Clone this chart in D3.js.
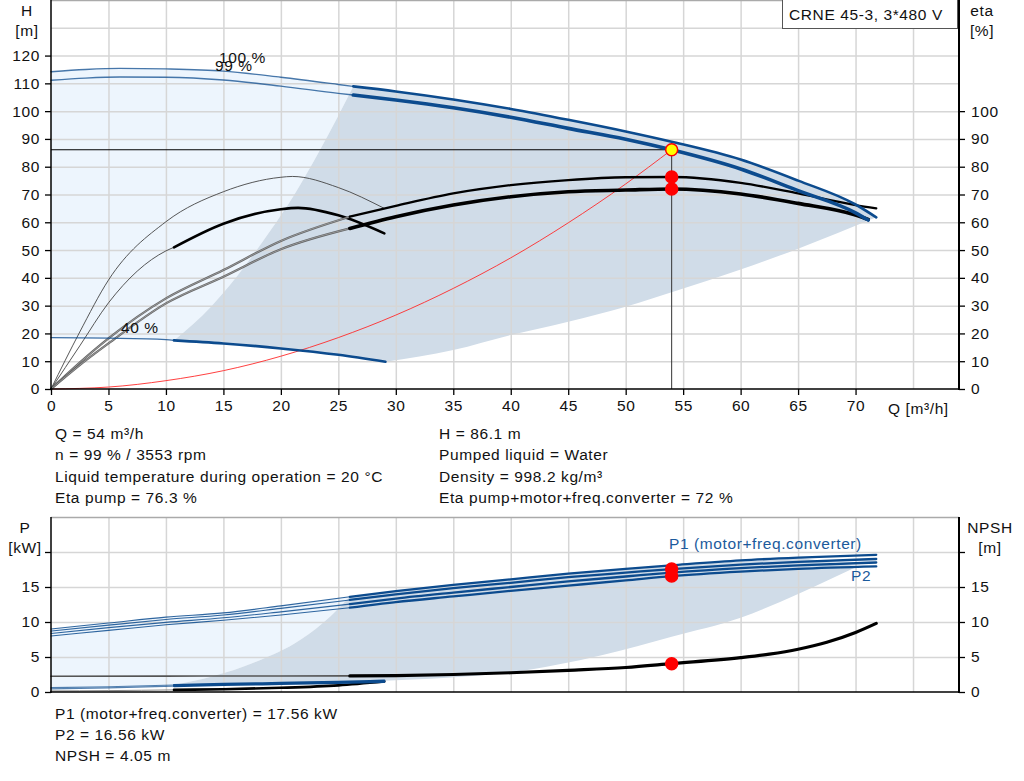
<!DOCTYPE html>
<html>
<head>
<meta charset="utf-8">
<script src="https://cdn.jsdelivr.net/npm/d3@7/dist/d3.min.js"></script>
<style>
  body { margin: 0; background: #fff; }
  svg { font-family: "Liberation Sans", Arial, sans-serif; letter-spacing: 0.6px; }
  svg text { font-size: 15.5px; fill: #111; }
  .axis line { stroke: #000; stroke-width: 1.3; }
  .grid line { stroke: #d6d6d6; stroke-width: 1.5; }
  .grid .domain { display: none; }
</style>
</head>
<body>
<svg width="1024" height="781"></svg>
<script>
// ---- head curves (m) ----
const qH100 = [0, 3, 6, 10, 15, 20, 25, 26.3, 30, 35, 40, 45, 50, 54, 60, 65, 70, 71.8];
const h100 = [114.2, 115.0, 115.4, 115.2, 114.4, 112.2, 109.6, 108.9, 107.1, 104.2, 100.8, 96.9, 92.7, 89.0, 82.6, 75.0, 66.4, 61.8];
const qH99 = [0, 3, 6, 10, 15, 20, 25, 26.3, 30, 35, 40, 45, 50, 54, 60, 65, 70, 71.1];
const h99 = [111.1, 111.9, 112.3, 112.2, 111.2, 109.0, 106.4, 105.8, 104.0, 101.2, 97.8, 93.8, 89.9, 86.1, 79.2, 71.4, 63.4, 60.8];
const qH40 = [0, 5, 10, 10.7, 15, 20, 25, 29.1];
const h40 = [18.5, 18.3, 17.8, 17.5, 16.4, 14.6, 12.3, 9.8];
const qMinFlow = [10.7, 14, 17, 19, 21.1, 23.4, 26.3];
const hMinFlow = [17.5, 30, 45, 56.5, 69.5, 86, 108.9];
const qMaxEdge = [29.1, 35, 40, 45, 50, 54.6, 60, 65, 71.8];
const hMaxEdge = [9.8, 14, 19.4, 24.2, 29.6, 35.6, 43, 50.5, 61.8];
const qSys = [0, 5, 10, 15, 20, 25, 30, 35, 40, 45, 50, 54];
const hSys = [0, 0.7, 3.0, 6.6, 11.8, 18.5, 26.6, 36.2, 47.2, 59.8, 73.8, 86.1];

// ---- efficiency curves (%) ----
const qEtaPump = [0, 2.5, 5, 10, 15, 20, 26, 30, 35, 40, 45, 50, 54, 60, 65, 70, 71.8];
const etaPump = [0, 9.5, 18.2, 32.6, 42.8, 53.3, 62.0, 65.9, 70.4, 73.4, 75.2, 76.2, 76.3, 74.2, 70.4, 66.2, 65.0];
const qEtaTotal = [0, 2.5, 5, 10, 15, 20, 26, 30, 35, 40, 45, 50, 54, 60, 65, 70, 71.1];
const etaTotal = [0, 8.6, 16.4, 30.8, 40.4, 50.3, 57.8, 62.0, 66.2, 69.2, 71.0, 71.6, 72.0, 70.2, 66.8, 62.6, 61.0];
const qEta40a = [0, 2.5, 5, 10, 15, 20, 21, 25, 29];
const eta40a = [0, 20.5, 39.2, 60.2, 71.0, 76.2, 76.5, 72.5, 65.0];
const qEta40b = [0, 2.5, 5, 10, 10.7, 15, 20, 21.5, 25, 29];
const eta40b = [0, 15.5, 31.0, 49.7, 51, 59.5, 64.7, 65.2, 62.5, 56];

// ---- power curves (kW) ----
const qP = [0, 5, 10, 15, 20, 26, 30, 35, 40, 45, 50, 54, 60, 65, 71.8];
const p1_100 = [9.0, 9.85, 10.7, 11.3, 12.3, 13.6, 14.4, 15.3, 16.1, 16.9, 17.6, 18.1, 18.8, 19.2, 19.6];
const p1_99 = [8.7, 9.55, 10.35, 11.0, 11.95, 13.15, 13.95, 14.85, 15.6, 16.4, 17.05, 17.56, 18.2, 18.6, 19.0];
const p2_100 = [8.35, 9.2, 9.95, 10.6, 11.45, 12.55, 13.35, 14.2, 15.0, 15.8, 16.5, 17.05, 17.7, 18.1, 18.5];
const p2_99 = [8.0, 8.8, 9.6, 10.25, 11.0, 12.05, 12.85, 13.65, 14.45, 15.2, 15.95, 16.56, 17.2, 17.6, 17.95];
const qP40 = [0, 5, 10.7, 15, 20, 25, 29];
const p1_40 = [0.62, 0.75, 1.0, 1.15, 1.3, 1.45, 1.62];
const p2_40 = [0.45, 0.6, 0.85, 1.0, 1.15, 1.3, 1.45];
const qPMinFlow = [10.7, 14, 17.9, 21.7, 24.3, 26];
const pMinFlow = [1.0, 2.2, 4.35, 7.45, 10.8, 13.6];
const qPMaxEdge = [29, 33, 36, 40, 44, 48, 54, 60, 65, 70.2];
const pMaxEdge = [1.62, 1.9, 2.2, 2.8, 3.9, 5.3, 7.9, 10.6, 14.0, 17.95];

// ---- NPSH (m) ----
const qNpsh = [0, 10, 20, 26, 30, 35, 40, 45, 50, 54, 60, 62.5, 65, 67.5, 70, 71.8];
const npsh = [2.25, 2.27, 2.29, 2.3, 2.35, 2.5, 2.75, 3.1, 3.5, 4.05, 4.9, 5.4, 6.1, 7.1, 8.5, 9.8];
const qNpsh40 = [0, 5, 10.7, 15, 20, 25, 29];
const npsh40 = [0.15, 0.2, 0.3, 0.4, 0.6, 0.95, 1.5];

// ---- duty point ----
const dutyQ = 54, dutyH = 86.1, dutyEtaPump = 76.3, dutyEtaTotal = 72;
const dutyP1 = 17.56, dutyP2 = 16.56, dutyNpsh = 4.05;

// ---- ticks / texts ----
const qTicks = d3.range(0, 71, 5);
const hTicks = d3.range(0, 121, 10);
const etaTicks = d3.range(0, 101, 10);
const pTicks = [0, 5, 10, 15];
const infoLeft = ["Q = 54 m³/h", "n = 99 % / 3553 rpm", "Liquid temperature during operation = 20 °C", "Eta pump = 76.3 %"];
const infoRight = ["H = 86.1 m", "Pumped liquid = Water", "Density = 998.2 kg/m³", "Eta pump+motor+freq.converter = 72 %"];
const infoBottom = ["P1 (motor+freq.converter) = 17.56 kW", "P2 = 16.56 kW", "NPSH = 4.05 m"];

const blue = "#0c4b8e", lightFill = "#edf5fd", darkFill = "#d0dce8";

const svg = d3.select("svg");
const x = d3.scaleLinear().domain([0, 79]).range([51, 959]);
const yH = d3.scaleLinear().domain([0, 140]).range([389, 0]);
const yP = d3.scaleLinear().domain([0, 25]).range([692, 517]);

function pts(qs, vs){ return qs.map((q, i) => [q, vs[i]]); }
function from(p, q0, q1){ return p.filter(d => d[0] >= q0 - 1e-9 && d[0] <= (q1 === undefined ? 1e9 : q1) + 1e-9); }

function pathOf(p, yScale){
  return d3.line().x(d => x(d[0])).y(d => yScale(d[1])).curve(d3.curveMonotoneX)(p);
}
// joins several curve pieces into one closed outline
function outline(pieces, yScale){
  return pieces.map((p, i) => { let s = pathOf(p, yScale); return i ? s.replace(/^M/, "L") : s; }).join("") + "Z";
}
function curve(g, p, yScale, color, width, opacity){
  g.append("path").attr("d", pathOf(p, yScale)).attr("fill", "none")
   .attr("stroke", color).attr("stroke-width", width)
   .attr("stroke-opacity", opacity === undefined ? 1 : opacity)
   .attr("stroke-linecap", "round");
}
function dot(g, q, v, yScale, fill){
  g.append("circle").attr("cx", x(q)).attr("cy", yScale(v)).attr("r", 6)
   .attr("fill", fill).attr("stroke", "#ff0000").attr("stroke-width", 1.5);
}
function label(g, t, px, py, anchor){
  return g.append("text").attr("x", px).attr("y", py).attr("text-anchor", anchor || "start").text(t);
}

function grid(g, yScale, yVals, y0, y1){
  g.append("g").attr("class", "grid")
   .attr("transform", "translate(0," + y1 + ")")
   .call(d3.axisBottom(x).tickValues(d3.range(5, 76, 5)).tickSize(-(y1 - y0)).tickFormat(""));
  g.append("g").attr("class", "grid")
   .attr("transform", "translate(51,0)")
   .call(d3.axisLeft(yScale).tickValues(yVals).tickSize(-908).tickFormat(""));
}

// ================= top chart: H / eta =================
const topG = svg.append("g");
const pH100 = pts(qH100, h100), pH99 = pts(qH99, h99), pH40 = pts(qH40, h40);
const pMin = pts(qMinFlow, hMinFlow), pMax = pts(qMaxEdge, hMaxEdge);

topG.append("path").attr("fill", lightFill).attr("d",
  outline([from(pH100, 0, 26.3), pMin.slice().reverse(), from(pH40, 0, 10.7).reverse()], yH));
topG.append("path").attr("fill", darkFill).attr("d",
  outline([pMin, from(pH100, 26.3), pMax.slice().reverse(), from(pH40, 10.7).reverse()], yH));

grid(topG, yH, d3.range(10, 131, 10), 0, 389);

// operating lines
topG.append("line").attr("x1", 51).attr("x2", x(dutyQ)).attr("y1", yH(dutyH)).attr("y2", yH(dutyH))
   .attr("stroke", "#000").attr("stroke-width", 1);
topG.append("line").attr("x1", x(dutyQ)).attr("x2", x(dutyQ)).attr("y1", yH(dutyH)).attr("y2", 389)
   .attr("stroke", "#333").attr("stroke-width", 1);

// system curve
curve(topG, pts(qSys, hSys), yH, "#ff2a2a", 0.9);

// efficiency curves
const pEtaP = pts(qEtaPump, etaPump), pEtaT = pts(qEtaTotal, etaTotal);
curve(topG, pts(qEta40a, eta40a), yH, "#444", 0.9);
const pE40b = pts(qEta40b, eta40b);
curve(topG, from(pE40b, 0, 10.7), yH, "#444", 0.9);
curve(topG, from(pE40b, 10.7), yH, "#000", 2.6);
curve(topG, from(pEtaP, 0, 26), yH, "#555", 2.2, 0.9);
curve(topG, from(pEtaP, 0, 26), yH, "#bbb", 0.6);
curve(topG, from(pEtaT, 0, 26), yH, "#555", 2.2, 0.9);
curve(topG, from(pEtaT, 0, 26), yH, "#bbb", 0.6);
curve(topG, from(pEtaP, 26), yH, "#000", 2.3);
curve(topG, from(pEtaT, 26), yH, "#000", 3.6);

// head curves
curve(topG, from(pH40, 0, 10.7), yH, blue, 1.3, 0.8);
curve(topG, from(pH40, 10.7), yH, blue, 2.6);
curve(topG, from(pH100, 0, 26.3), yH, blue, 1.4, 0.75);
curve(topG, from(pH99, 0, 26.3), yH, blue, 1.4, 0.75);
curve(topG, from(pH100, 26.3), yH, blue, 2.6);
curve(topG, from(pH99, 26.3), yH, blue, 3.6);

label(topG, "100 %", 219, 63);
label(topG, "99 %", 215, 71);
label(topG, "40 %", 121, 333);

dot(topG, dutyQ, dutyEtaPump, yH, "#ff0000");
dot(topG, dutyQ, dutyEtaTotal, yH, "#ff0000");
dot(topG, dutyQ, dutyH, yH, "#ffff00");

// frame & axes
topG.append("line").attr("x1", 51).attr("x2", 959).attr("y1", 0.5).attr("y2", 0.5).attr("stroke", "#aaa").attr("stroke-width", 1.5);
const axL = topG.append("g").attr("class", "axis").attr("transform", "translate(51,0)")
   .call(d3.axisLeft(yH).tickValues(hTicks).tickSize(6).tickPadding(5));
const axR = topG.append("g").attr("class", "axis").attr("transform", "translate(959,0)")
   .call(d3.axisRight(yH).tickValues(etaTicks).tickSize(6).tickPadding(6));
const axB = topG.append("g").attr("class", "axis").attr("transform", "translate(0,389)")
   .call(d3.axisBottom(x).tickValues(qTicks).tickSize(6).tickPadding(5));
[axL, axR, axB].forEach(a => { a.select(".domain").remove(); a.attr("font-size", null).attr("font-family", null); });
topG.append("line").attr("x1", 51).attr("x2", 51).attr("y1", 0).attr("y2", 390).attr("stroke", "#000").attr("stroke-width", 1.5);
topG.append("line").attr("x1", 959).attr("x2", 959).attr("y1", 0).attr("y2", 390).attr("stroke", "#000").attr("stroke-width", 2);
topG.append("line").attr("x1", 50).attr("x2", 960).attr("y1", 389).attr("y2", 389).attr("stroke", "#000").attr("stroke-width", 1.5);

label(topG, "H", 27, 16, "middle");
label(topG, "[m]", 27, 36, "middle");
label(topG, "eta", 982, 16, "middle");
label(topG, "[%]", 982, 36, "middle");
label(topG, "Q [m³/h]", 888, 414);

topG.append("rect").attr("x", 782.5).attr("y", -1).attr("width", 175).attr("height", 29.5)
   .attr("fill", "#fff").attr("stroke", "#555").attr("stroke-width", 1);
label(topG, "CRNE 45-3, 3*480 V", 789, 20);

infoLeft.forEach((t, i) => label(topG, t, 55, 439 + i * 21.3));
infoRight.forEach((t, i) => label(topG, t, 439, 439 + i * 21.3));

// ================= bottom chart: P / NPSH =================
const botG = svg.append("g");
const pP1a = pts(qP, p1_100), pP1b = pts(qP, p1_99), pP2a = pts(qP, p2_100), pP2b = pts(qP, p2_99);
const pP40a = pts(qP40, p1_40), pP40b = pts(qP40, p2_40);
const pPMin = pts(qPMinFlow, pMinFlow), pPMax = pts(qPMaxEdge, pMaxEdge);

botG.append("path").attr("fill", lightFill).attr("d",
  outline([from(pP1a, 0, 26), pPMin.slice().reverse(), from(pP40a, 0, 10.7).reverse()], yP));
botG.append("path").attr("fill", darkFill).attr("d",
  outline([pPMin, from(pP1a, 26, 65), pPMax.slice().reverse(), from(pP40a, 10.7).reverse()], yP));

grid(botG, yP, [5, 10, 15, 20], 517, 692);

// NPSH
const pN = pts(qNpsh, npsh), pN40 = pts(qNpsh40, npsh40);
curve(botG, from(pN, 0, 26), yP, "#555", 1.6);
curve(botG, from(pN, 26), yP, "#000", 3.2);
curve(botG, from(pN40, 0, 10.7), yP, "#888", 1);
curve(botG, from(pN40, 10.7), yP, "#000", 2.6);

// power
[pP40b, pP40a].forEach(p => {
  curve(botG, from(p, 0, 10.7), yP, blue, 1.2, 0.7);
  curve(botG, from(p, 10.7), yP, blue, 2.2);
});
[pP2b, pP2a, pP1b, pP1a].forEach(p => {
  curve(botG, from(p, 0, 26), yP, blue, 1.1, 0.85);
  curve(botG, from(p, 26), yP, blue, 2.3);
});

label(botG, "P1 (motor+freq.converter)", 669, 549).style("fill", "#1b5a9c");
label(botG, "P2", 851, 581).style("fill", "#1b5a9c");

dot(botG, dutyQ, dutyP1, yP, "#ff0000");
dot(botG, dutyQ, dutyP2, yP, "#ff0000");
dot(botG, dutyQ, dutyNpsh, yP, "#ff0000");

botG.append("line").attr("x1", 51).attr("x2", 959).attr("y1", 517.5).attr("y2", 517.5).attr("stroke", "#aaa").attr("stroke-width", 1.5);
const bL = botG.append("g").attr("class", "axis").attr("transform", "translate(51,0)")
   .call(d3.axisLeft(yP).tickValues([0, 5, 10, 15, 20]).tickSize(6).tickPadding(5)
         .tickFormat(d => pTicks.includes(d) ? d : ""));
const bR = botG.append("g").attr("class", "axis").attr("transform", "translate(959,0)")
   .call(d3.axisRight(yP).tickValues([0, 5, 10, 15, 20]).tickSize(6).tickPadding(6)
         .tickFormat(d => pTicks.includes(d) ? d : ""));
[bL, bR].forEach(a => { a.select(".domain").remove(); a.attr("font-size", null).attr("font-family", null); });
botG.append("line").attr("x1", 51).attr("x2", 51).attr("y1", 517).attr("y2", 693).attr("stroke", "#000").attr("stroke-width", 1.5);
botG.append("line").attr("x1", 959).attr("x2", 959).attr("y1", 517).attr("y2", 693).attr("stroke", "#000").attr("stroke-width", 2);
botG.append("line").attr("x1", 50).attr("x2", 960).attr("y1", 692).attr("y2", 692).attr("stroke", "#000").attr("stroke-width", 1.5);

label(botG, "P", 25, 533, "middle");
label(botG, "[kW]", 25, 553, "middle");
label(botG, "NPSH", 990, 533, "middle");
label(botG, "[m]", 990, 553, "middle");

infoBottom.forEach((t, i) => label(botG, t, 55, 719 + i * 21));
</script>
</body>
</html>
